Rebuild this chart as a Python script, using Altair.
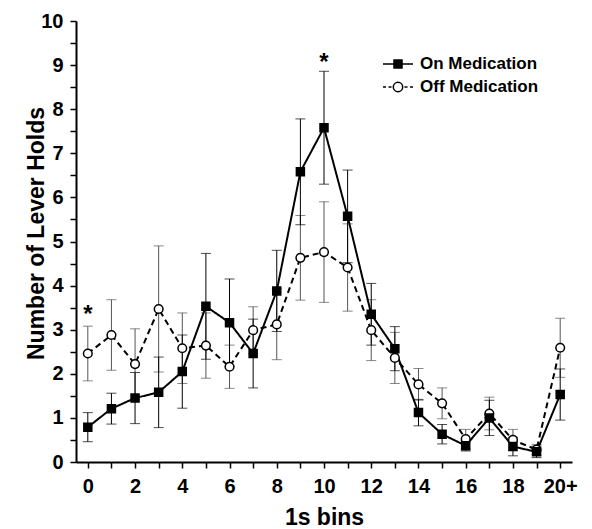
import altair as alt
import pandas as pd

# ---- data ----
bins = list(range(21))
on_mean = [0.79, 1.21, 1.45, 1.58, 2.05, 3.53, 3.16, 2.46, 3.88, 6.58, 7.58, 5.57, 3.35, 2.57, 1.12, 0.63, 0.37, 1.00, 0.35, 0.23, 1.53]
on_err = [0.33, 0.35, 0.58, 0.80, 0.83, 1.20, 0.99, 0.78, 0.92, 1.20, 1.28, 1.05, 0.70, 0.50, 0.30, 0.22, 0.12, 0.40, 0.21, 0.13, 0.58]
off_mean = [2.46, 2.88, 2.22, 3.47, 2.58, 2.64, 2.16, 2.99, 3.12, 4.63, 4.76, 4.41, 2.99, 2.36, 1.76, 1.33, 0.52, 1.10, 0.50, 0.28, 2.59]
off_err = [0.62, 0.80, 0.80, 1.43, 0.80, 0.74, 0.49, 0.53, 0.80, 0.96, 1.14, 0.99, 0.69, 0.58, 0.36, 0.35, 0.22, 0.37, 0.24, 0.12, 0.67]
series_names = ["On Medication", "Off Medication"]
star_bins = [0, 10]
star_y = [3.45, 9.15]
x_ticks = list(range(21))
y_ticks = [i * 0.5 for i in range(21)]

rows = []
for name, means, errs in [(series_names[0], on_mean, on_err), (series_names[1], off_mean, off_err)]:
    for b, m, e in zip(bins, means, errs):
        rows.append({"series": name, "bin": b, "mean": m, "lo": m - e, "hi": m + e})
df = pd.DataFrame(rows)
stars = pd.DataFrame({"bin": star_bins, "y": star_y, "t": ["*"] * len(star_bins)})

FONT = "Liberation Sans"

x_scale = alt.Scale(domain=[-0.5, 20.5], nice=False, zero=False)
y_scale = alt.Scale(domain=[0, 10], nice=False)

x_axis = alt.Axis(
    values=x_ticks,
    labelExpr="datum.value == 20 ? '20+' : (datum.value % 2 == 0 ? format(datum.value, 'd') : '')",
    title="1s bins", titleX=248, titleY=62, titleAlign="center", titleBaseline="alphabetic",
    labelPadding=8,
)
y_axis = alt.Axis(
    values=y_ticks,
    labelExpr="datum.value % 1 == 0 ? format(datum.value, 'd') : ''",
    title="Number of Lever Holds", titleAngle=270, titleX=-40, titleY=212,
    titleAlign="center", titleBaseline="middle", labelPadding=7,
)

base = alt.Chart(df)
X = alt.X("bin:Q", scale=x_scale, axis=x_axis)


def Y(field):
    return alt.Y(f"{field}:Q", scale=y_scale, axis=y_axis)


styles = {
    series_names[0]: {"err": "#000000", "dash": [1, 0], "shape": "square", "fill": "black", "size": 64},
    series_names[1]: {"err": "#555555", "dash": [6, 4], "shape": "circle", "fill": "white", "size": 75},
}

err_layers, line_layers, pt_layers = [], [], []
for name in series_names[::-1]:
    st = styles[name]
    sub = base.transform_filter(alt.datum.series == name)
    err_layers.append(sub.mark_rule(strokeWidth=1, color=st["err"]).encode(x=X, y=Y("lo"), y2="hi:Q"))
    err_layers.append(sub.mark_tick(orient="horizontal", size=10, thickness=1, color=st["err"]).encode(x=X, y=Y("lo")))
    err_layers.append(sub.mark_tick(orient="horizontal", size=10, thickness=1, color=st["err"]).encode(x=X, y=Y("hi")))
    line_layers.append(sub.mark_line(strokeWidth=2, color="black", strokeDash=st["dash"]).encode(x=X, y=Y("mean")))
    pt_layers.append(sub.mark_point(shape=st["shape"], filled=True, fill=st["fill"], stroke="black",
                                    strokeWidth=1.5, size=st["size"], opacity=1).encode(x=X, y=Y("mean")))

on_sym = "M-1.5,0H-0.4M0.4,0H1.5M-0.4,-0.4H0.4V0.4H-0.4Z"
off_sym = ("M-1.5,0H-1.2M-0.95,0H-0.65M0.65,0H0.95M1.2,0H1.5"
           "M0.47,0A0.47,0.47,0,1,1,-0.47,0A0.47,0.47,0,1,1,0.47,0Z")
legend_def = alt.Legend(
    title=None, orient="none", legendX=311, legendY=32, padding=0,
    symbolSize=400, symbolStrokeWidth=1.5, symbolOpacity=1,
    labelFont=FONT, labelFontSize=17, labelFontWeight="bold", labelColor="black",
    labelOffset=11, rowPadding=4, labelBaseline="middle",
)
# legend-only layer: its marks sit outside the plot and are clipped away
legend_layer = base.mark_point(opacity=1, strokeWidth=1.5, clip=True).encode(
    x=alt.value(-200), y=alt.value(-200),
    shape=alt.Shape("series:N", scale=alt.Scale(domain=series_names, range=[on_sym, off_sym]), legend=legend_def),
    fill=alt.Fill("series:N", scale=alt.Scale(domain=series_names, range=["black", "white"]), legend=legend_def),
    stroke=alt.Stroke("series:N", scale=alt.Scale(domain=series_names, range=["black", "black"]), legend=legend_def),
)

star_layer = alt.Chart(stars).mark_text(
    font=FONT, fontSize=24, fontWeight="bold", color="black", baseline="middle", dy=5
).encode(
    x=alt.X("bin:Q", scale=x_scale, axis=x_axis),
    y=alt.Y("y:Q", scale=y_scale, axis=y_axis),
    text="t:N",
)

chart = alt.layer(
    *err_layers, *line_layers, *pt_layers, legend_layer, star_layer
).properties(
    width=496, height=441,
    autosize=alt.AutoSizeParams(type="none"),
    padding={"left": 76, "top": 21, "right": 20, "bottom": 67},
    background="white",
).configure_view(stroke=None).configure_axis(
    grid=False,
    domainColor="black", domainWidth=2,
    tickColor="black", tickWidth=1.5, tickSize=6,
    labelFont=FONT, labelFontSize=20, labelFontWeight="bold", labelColor="black",
    titleFont=FONT, titleFontSize=23, titleFontWeight="bold", titleColor="black",
    labelOverlap=False,
)

chart.save("out.html", embed_options={"renderer": "svg", "actions": False})
